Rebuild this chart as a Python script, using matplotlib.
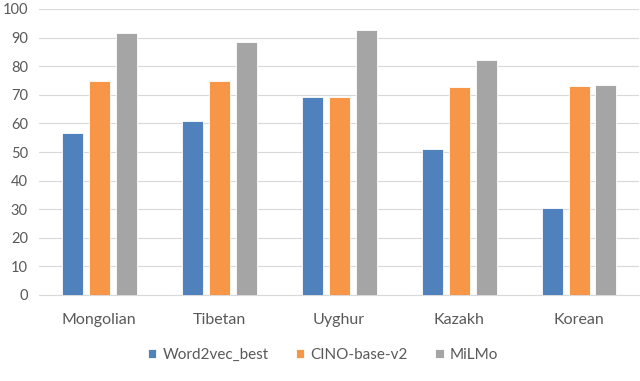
import numpy as np
import matplotlib.pyplot as plt

languages = ['Mongolian', 'Tibetan', 'Uyghur', 'Kazakh', 'Korean']
word2vec_best = [56.8, 60.8, 69.4, 51.0, 30.3]
cino_base_v2 = [74.7, 75.0, 69.4, 72.8, 73.1]
milmo = [91.6, 88.4, 92.8, 82.0, 73.5]

series_names = ['Word2vec_best', 'CINO-base-v2', 'MiLMo']
colors = ['#4F81BD', '#F79646', '#A5A5A5']
text_color = '#595959'

plt.rcParams['font.family'] = ['Lato', 'DejaVu Sans']

fig = plt.figure(figsize=(6.4, 3.81), dpi=100)
ax = fig.add_axes([39 / 640, 1 - 295 / 381, 600 / 640, 286 / 381])

x = np.arange(len(languages))
width = 0.175
step = 0.225
for i, (vals, name, c) in enumerate(zip([word2vec_best, cino_base_v2, milmo], series_names, colors)):
    ax.bar(x + (i - 1) * step, vals, width, color=c, edgecolor='white', linewidth=0.6,
           label=name, zorder=3)

ax.set_xlim(-0.5, len(languages) - 0.5)
ax.set_ylim(0, 100)
ax.set_yticks(range(0, 101, 10))
ax.set_xticks(x)
ax.set_xticklabels(languages)
ax.yaxis.grid(True, color='#D9D9D9', linewidth=0.8, zorder=0)
for s in ['top', 'right', 'left']:
    ax.spines[s].set_visible(False)
ax.spines['bottom'].set_color('#D9D9D9')
ax.tick_params(axis='x', length=0, colors=text_color, labelsize=11.5, pad=13)
ax.tick_params(axis='y', length=0, colors=text_color, labelsize=10.5, pad=8)

leg = fig.legend(loc='center', bbox_to_anchor=(323 / 640, 1 - 355 / 381), ncol=3, frameon=False,
                 fontsize=11, handlelength=0.55, handleheight=0.55, handletextpad=0.4,
                 columnspacing=1.8, labelcolor=text_color)

fig.savefig('out.png', dpi=100)
